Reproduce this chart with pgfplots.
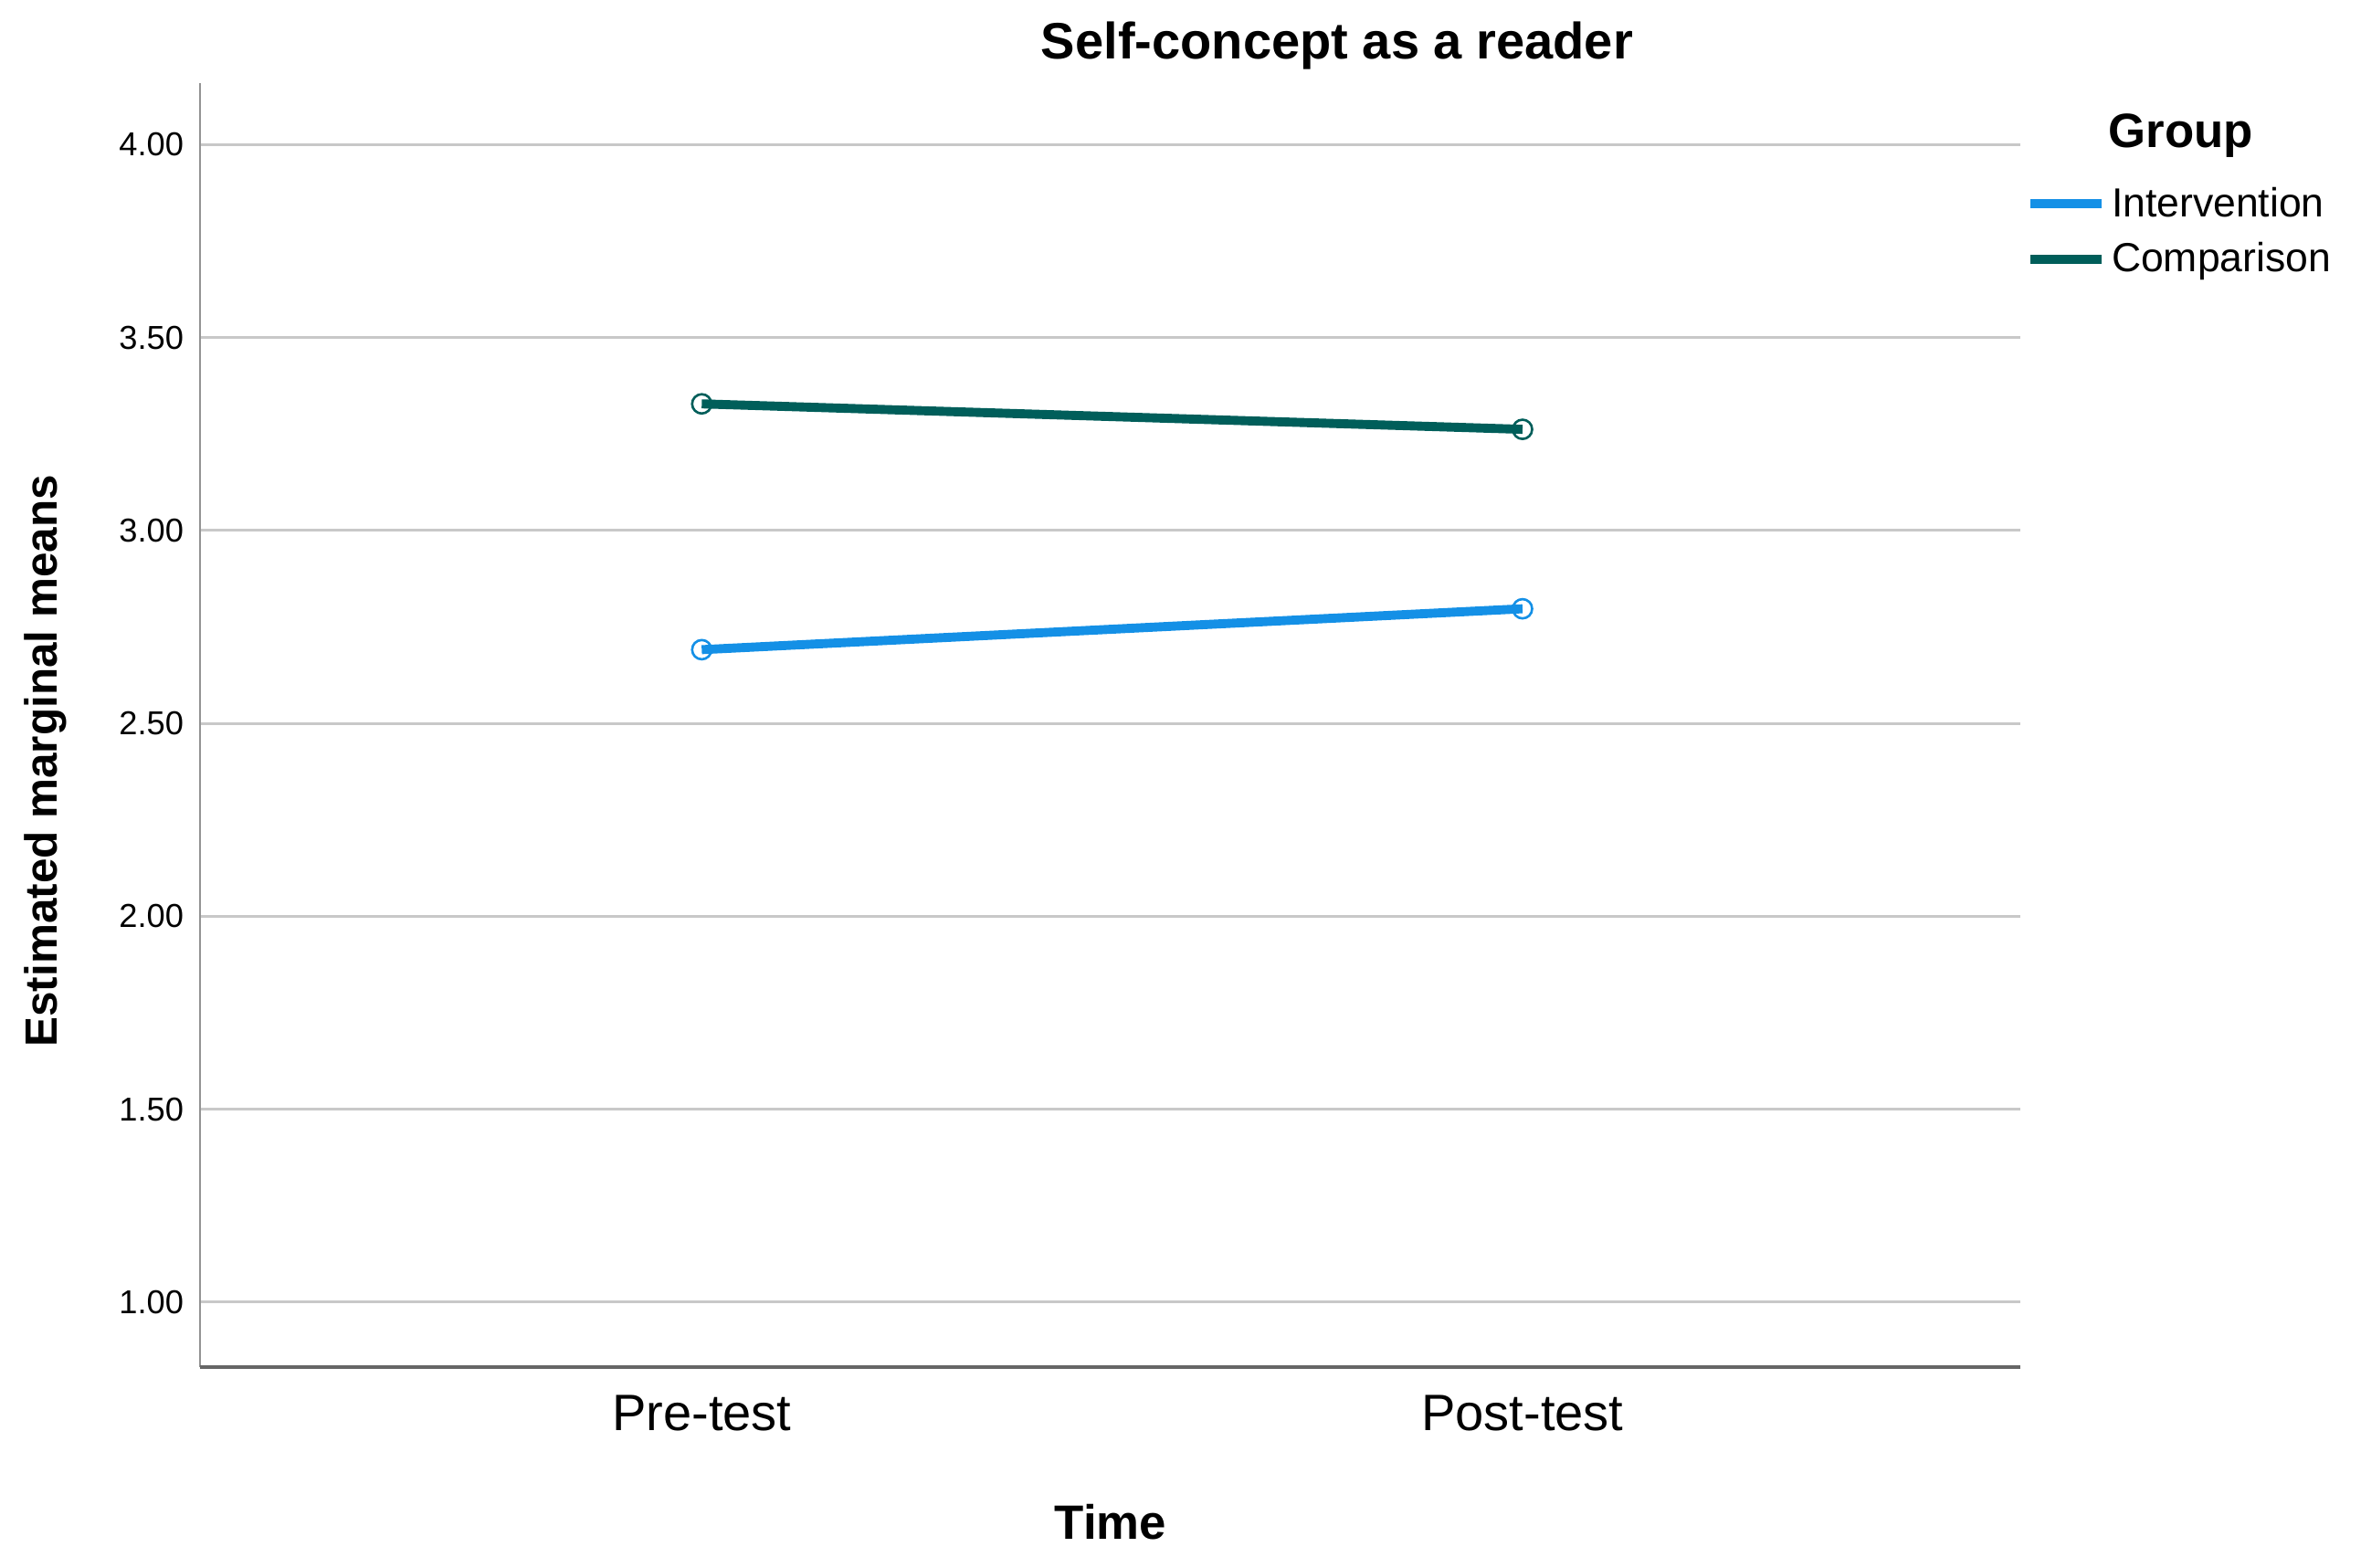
\documentclass[border=0pt]{standalone}
\usepackage{fontspec}
\setmainfont{Liberation Sans}
\usepackage{pgfplots}
\pgfplotsset{compat=1.18}

\definecolor{interv}{RGB}{20,144,230}
\definecolor{compar}{RGB}{0,94,90}
\definecolor{gridgray}{RGB}{200,200,200}

\begin{document}
\begin{tikzpicture}
\path[use as bounding box] (0,0) rectangle (784pt,520.5pt);
\begin{axis}[
  at={(66.5pt,66.5pt)}, anchor=south west,
  scale only axis,
  width=604.5pt, height=426.5pt,
  xmin=-0.611, xmax=1.607,
  ymin=0.832, ymax=4.16,
  axis lines*=left,
  axis line style={draw=none},
  xtick={0,1}, xticklabels={Pre-test,Post-test},
  ytick={1,1.5,2,2.5,3,3.5,4},
  major tick length=0pt,
  ymajorgrids,
  major grid style={gridgray, line width=0.9pt},
  /pgf/number format/assume math mode=true,
  yticklabel style={/pgf/number format/fixed, /pgf/number format/fixed zerofill,
    /pgf/number format/precision=2, font=\fontsize{11}{13}\selectfont, xshift=-2pt},
  xticklabel style={font=\fontsize{17}{20}\selectfont, yshift=-6pt},
  legend style={draw=none, fill=none, at={(1.0025,0.924)}, anchor=north west,
    font=\fontsize{13.5}{16}\selectfont, row sep=3pt, inner sep=0pt,
    legend cell align=left},
  legend image code/.code={\draw[#1, mark=none] (0pt,0pt) -- (23.5pt,0pt);},
  clip=false,
]
\draw[gray!85, line width=0.5pt] (rel axis cs:0,0) -- (rel axis cs:0,1);
\draw[black!60, line width=1.1pt] (rel axis cs:0,0) -- (rel axis cs:1,0);

\addplot[interv, line width=3pt, mark=o, mark size=3.2pt,
  mark options={solid, fill=white, line width=0.8pt}] coordinates {
(0, 2.691)
(1, 2.797)
};
\addlegendentry{Intervention}
\addplot[compar, line width=3pt, mark=o, mark size=3.2pt,
  mark options={solid, fill=white, line width=0.8pt}] coordinates {
(0, 3.328)
(1, 3.262)
};
\addlegendentry{Comparison}

\node[font=\bfseries\fontsize{17}{20}\selectfont] at (axis description cs:0.6245,1.029) {Self-concept as a reader};
\node[font=\bfseries\fontsize{16}{19}\selectfont] at (axis description cs:0.5,-0.1208) {Time};
\node[font=\bfseries\fontsize{15}{18}\selectfont, rotate=90] at (axis description cs:-0.0852,0.472) {Estimated marginal means};
\node[font=\bfseries\fontsize{16}{19}\selectfont] at (axis description cs:1.0881,0.959) {Group};
\end{axis}
\end{tikzpicture}
\end{document}
